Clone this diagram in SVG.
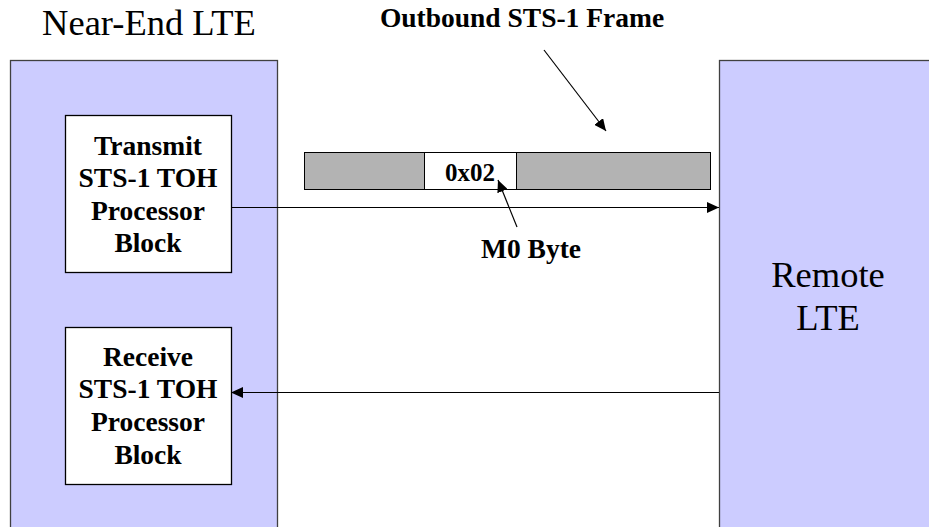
<svg xmlns="http://www.w3.org/2000/svg" width="929" height="527" viewBox="0 0 929 527">
<style>
.lte{fill:#CCCCFF;stroke:#404040;stroke-width:1.3}
.blk{fill:#FFFFFF;stroke:#000;stroke-width:1.3}
.t{font-family:"Liberation Serif","Times New Roman",serif;fill:#000;text-anchor:middle}
.r{font-size:36.5px}
.b{font-size:27.5px;font-weight:bold}
.ln{stroke:#000;stroke-width:1.2;fill:none}
</style>
<defs>
<marker id="ah" viewBox="0 0 12 11" refX="12" refY="5.5" markerWidth="12" markerHeight="11" markerUnits="userSpaceOnUse" orient="auto">
<path d="M0,0 L12,5.5 L0,11 Z" fill="#000"/>
</marker>
</defs>
<rect width="929" height="527" fill="#fff"/>
<g id="near-end-lte">
<rect class="lte" x="10.5" y="60.5" width="267" height="480"/>
<text class="t r" x="149" y="35">Near-End LTE</text>
</g>
<g id="remote-lte">
<rect class="lte" x="719.5" y="60.5" width="230" height="480"/>
<text class="t r" x="828" y="287">Remote</text>
<text class="t r" x="828" y="330">LTE</text>
</g>
<g id="transmit-block">
<rect class="blk" x="65.5" y="115.5" width="166" height="157"/>
<text class="t b" x="148" y="155">Transmit</text>
<text class="t b" x="148" y="187">STS-1 TOH</text>
<text class="t b" x="148" y="220">Processor</text>
<text class="t b" x="148" y="252">Block</text>
</g>
<g id="receive-block">
<rect class="blk" x="65.5" y="327.5" width="166" height="157"/>
<text class="t b" x="148" y="366">Receive</text>
<text class="t b" x="148" y="398">STS-1 TOH</text>
<text class="t b" x="148" y="431">Processor</text>
<text class="t b" x="148" y="464">Block</text>
</g>
<g id="outbound-frame">
<rect x="304.5" y="152.5" width="406" height="37" fill="#B3B3B3" stroke="#000" stroke-width="1"/>
<rect x="424.5" y="152.5" width="92" height="37" fill="#FFFFFF" stroke="#000" stroke-width="1"/>
<text class="t" x="470" y="181" style="font-size:25px;font-weight:bold">0x02</text>
</g>
<g id="frame-label">
<text class="t b" x="522" y="27">Outbound STS-1 Frame</text>
</g>
<g id="m0-label">
<text class="t b" x="531" y="258">M0 Byte</text>
</g>
<g id="connectors">
<line class="ln" x1="544" y1="50" x2="606" y2="131" marker-end="url(#ah)"/>
<line class="ln" x1="517" y1="227" x2="498" y2="180" marker-end="url(#ah)"/>
<line class="ln" x1="231" y1="207.5" x2="719" y2="207.5" marker-end="url(#ah)"/>
<line class="ln" x1="719" y1="392.5" x2="231" y2="392.5" marker-end="url(#ah)"/>
</g>
</svg>
